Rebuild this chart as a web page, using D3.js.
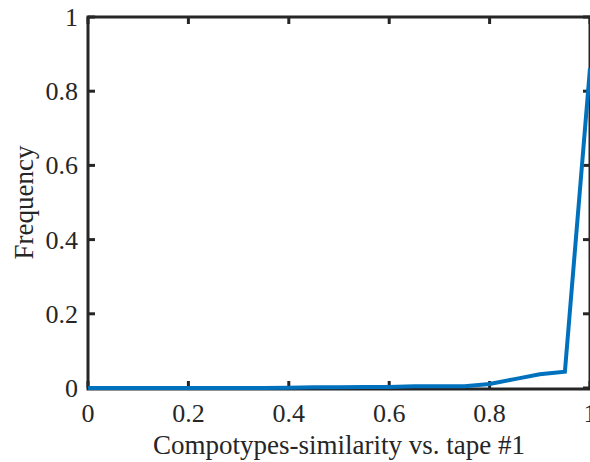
<!DOCTYPE html>
<html>
<head>
<meta charset="utf-8">
<script src="https://cdn.jsdelivr.net/npm/d3@7"></script>
<style>
  body { margin: 0; background: #fff; }
  svg { display: block; }
</style>
</head>
<body>
<script>
// similarity bins and frequency of compotypes
var similarity = [0, 0.05, 0.1, 0.15, 0.2, 0.25, 0.3, 0.35, 0.4, 0.45, 0.5,
                  0.55, 0.6, 0.65, 0.7, 0.75, 0.8, 0.85, 0.9, 0.95, 1];
var frequency = [0, 0, 0, 0, 0, 0, 0, 0, 0.001, 0.002, 0.002,
                 0.003, 0.003, 0.005, 0.005, 0.005, 0.011, 0.024, 0.037, 0.044, 0.862];
var xTicks = [0, 0.2, 0.4, 0.6, 0.8, 1];
var yTicks = [0, 0.2, 0.4, 0.6, 0.8, 1];

var data = similarity.map(function(s, i) { return {x: s, y: frequency[i]}; });

var svgW = 590, svgH = 462;
var margin = {top: 17, right: 0, bottom: 74, left: 88},
    width = 502,
    height = svgH - margin.top - margin.bottom;

var font = "'Liberation Serif', 'Times New Roman', Times, serif";

var svg = d3.select("body").append("svg")
    .attr("width", svgW)
    .attr("height", svgH);

var g = svg.append("g")
    .attr("transform", "translate(" + margin.left + "," + margin.top + ")");

var x = d3.scaleLinear().domain([0, 1]).range([0, width]);
var y = d3.scaleLinear().domain([0, 1]).range([height, 0]);

var axisColor = "#262626";

// box + inward ticks
g.append("rect")
    .attr("x", 0).attr("y", 0)
    .attr("width", width).attr("height", height + 1)
    .attr("fill", "none")
    .attr("stroke", axisColor)
    .attr("stroke-width", 3);

var tickLen = 7;
xTicks.forEach(function(t) {
    g.append("line")
        .attr("x1", x(t)).attr("x2", x(t))
        .attr("y1", height).attr("y2", height - tickLen)
        .attr("stroke", axisColor).attr("stroke-width", 3);
    g.append("line")
        .attr("x1", x(t)).attr("x2", x(t))
        .attr("y1", 0).attr("y2", tickLen)
        .attr("stroke", axisColor).attr("stroke-width", 3);
});
yTicks.forEach(function(t) {
    g.append("line")
        .attr("x1", 0).attr("x2", tickLen)
        .attr("y1", y(t)).attr("y2", y(t))
        .attr("stroke", axisColor).attr("stroke-width", 3);
    g.append("line")
        .attr("x1", width).attr("x2", width - tickLen)
        .attr("y1", y(t)).attr("y2", y(t))
        .attr("stroke", axisColor).attr("stroke-width", 3);
});

// tick labels
g.selectAll(".xt")
    .data(xTicks)
    .enter().append("text")
    .attr("x", function(d) { return x(d); })
    .attr("y", height + 34)
    .attr("text-anchor", "middle")
    .attr("font-family", font)
    .attr("font-size", 26)
    .attr("fill", axisColor)
    .text(function(d) { return d; });

g.selectAll(".yt")
    .data(yTicks)
    .enter().append("text")
    .attr("x", -10)
    .attr("y", function(d) { return y(d) + 9; })
    .attr("text-anchor", "end")
    .attr("font-family", font)
    .attr("font-size", 26)
    .attr("fill", axisColor)
    .text(function(d) { return d; });

// the line
var line = d3.line()
    .x(function(d) { return x(d.x); })
    .y(function(d) { return y(d.y); });

g.append("path")
    .datum(data)
    .attr("fill", "none")
    .attr("stroke", "#0072BD")
    .attr("stroke-width", 4)
    .attr("stroke-linejoin", "miter")
    .attr("d", line);

// axis labels
g.append("text")
    .attr("x", width / 2)
    .attr("y", height + 66)
    .attr("text-anchor", "middle")
    .attr("font-family", font)
    .attr("font-size", 27)
    .attr("fill", axisColor)
    .text("Compotypes-similarity vs. tape #1");

g.append("text")
    .attr("transform", "translate(" + (-55) + "," + (height / 2) + ") rotate(-90)")
    .attr("text-anchor", "middle")
    .attr("font-family", font)
    .attr("font-size", 27)
    .attr("fill", axisColor)
    .text("Frequency");
</script>
</body>
</html>
